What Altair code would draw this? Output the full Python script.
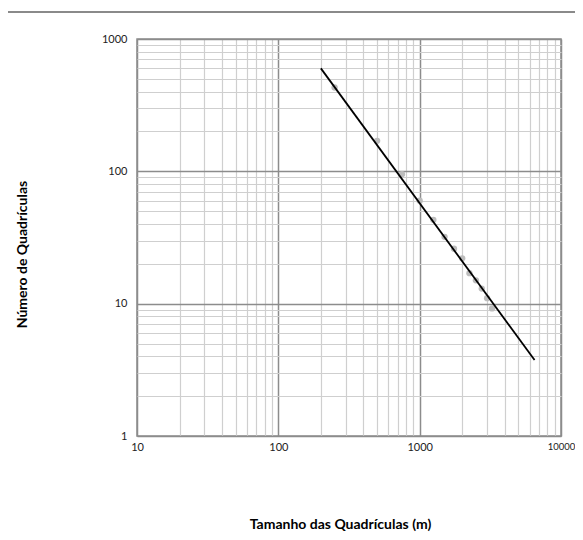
import altair as alt
import pandas as pd

# Data
pt_x = [250, 500, 750, 1000, 1250, 1500, 1750, 2000, 2250, 2500, 2750, 3000, 3250]
pt_y = [430, 170, 95, 60, 43, 32, 26, 22, 17, 15, 13, 11, 9.2]

trend_x = [200, 6500]
trend_y = [600, 3.75]

x_ticks = [m * 10 ** e for e in (1, 2, 3) for m in range(1, 10)] + [10000]
y_ticks = [m * 10 ** e for e in (0, 1, 2) for m in range(1, 10)] + [1000]
x_major = [10, 100, 1000, 10000]
y_major = [1, 10, 100, 1000]

pts = pd.DataFrame({"x": pt_x, "y": pt_y})
trend = pd.DataFrame({"x": trend_x, "y": trend_y})

W, H = 424, 397
FONT = "Lato"


def major_test(vals):
    return "indexof([" + ",".join(str(v) for v in vals) + "], datum.value) >= 0"


x_scale = alt.Scale(type="log", domain=[10, 10000], nice=False)
y_scale = alt.Scale(type="log", domain=[1, 1000], nice=False)

x_axis = alt.Axis(
    values=x_ticks, format="d",
    labelExpr=major_test(x_major) + " ? datum.label : ''",
    labelOverlap=False, labelFlush=False, ticks=False, domain=False,
    labelPadding=5, labelFont=FONT, labelColor="#222",
    labelFontSize={"condition": {"test": "datum.value == 10000", "value": 9.5}, "value": 11},
    gridColor={"condition": {"test": major_test(x_major), "value": "#8c8c8c"}, "value": "#cfcfcf"},
    gridWidth={"condition": {"test": major_test(x_major), "value": 1.5}, "value": 1.2},
    title="Tamanho das Quadrículas (m)", titleFont=FONT, titleFontSize=14,
    titleFontWeight="bold", titleColor="#000", titleX=203, titleY=88,
    titleBaseline="middle",
)
y_axis = alt.Axis(
    values=y_ticks, format="d",
    labelExpr=major_test(y_major) + " ? datum.label : ''",
    labelOverlap=False, labelFlush=False, ticks=False, domain=False,
    labelPadding=10, labelFont=FONT, labelFontSize=11, labelColor="#222",
    gridColor={"condition": {"test": major_test(y_major), "value": "#8c8c8c"}, "value": "#cfcfcf"},
    gridWidth={"condition": {"test": major_test(y_major), "value": 1.5}, "value": 1.2},
    title="Número de Quadrículas", titleFont=FONT, titleFontSize=14,
    titleFontWeight="bold", titleColor="#000", titleX=-115, titleY=215,
    titleAngle=270, titleAlign="center", titleBaseline="middle",
)

points = alt.Chart(pts).mark_circle(size=40, color="#bdbdbd", opacity=1).encode(
    x=alt.X("x:Q", scale=x_scale, axis=x_axis),
    y=alt.Y("y:Q", scale=y_scale, axis=y_axis),
)

line = alt.Chart(trend).mark_line(color="#000", strokeWidth=1.8).encode(
    x=alt.X("x:Q", scale=x_scale),
    y=alt.Y("y:Q", scale=y_scale),
)

top_rule = alt.Chart(pd.DataFrame({"a": [0]})).mark_rule(color="#8a8a8a", strokeWidth=2).encode(
    x=alt.value(-137), x2=alt.value(460), y=alt.value(-27)
)

chart = alt.layer(points, line, top_rule).properties(
    width=W, height=H,
    autosize=alt.AutoSizeParams(type="none"),
    padding={"left": 129, "top": 31, "right": 14, "bottom": 96},
).configure_view(stroke="#8c8c8c", strokeWidth=1.5)

chart.save("out.html", embed_options={"renderer": "svg", "actions": False})
